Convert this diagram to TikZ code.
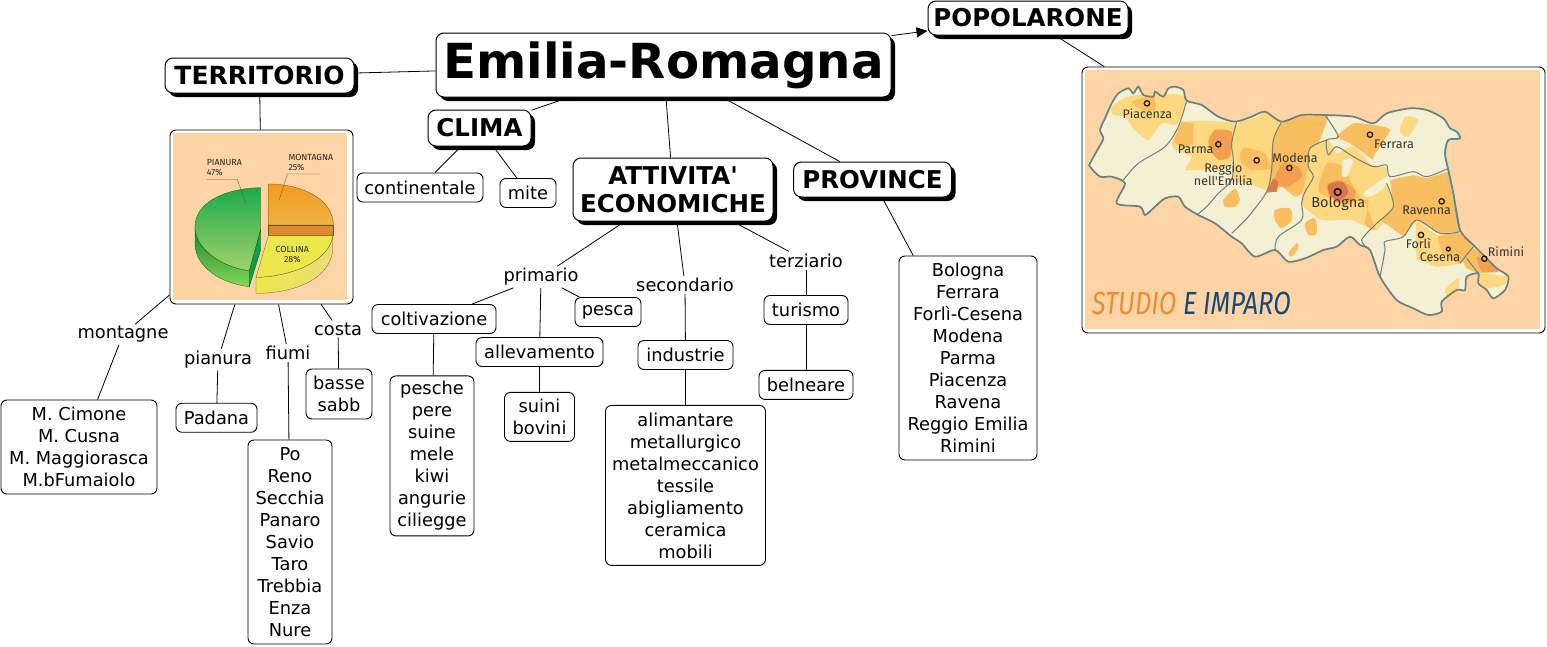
\documentclass[tikz,border=0pt]{standalone}
\usepackage{fontspec}
\setmainfont{DejaVu Sans}
\newfontfamily\mapfont{Fira Sans}
\usepackage{tikz}
\usetikzlibrary{arrows.meta,positioning,shadows}
\definecolor{peachbg}    {RGB}{253,212,166}
\definecolor{creamland}  {RGB}{243,240,212}
\definecolor{borderline} {RGB}{108,128,130}
\definecolor{coastline}  {RGB}{ 60,150,175}
\definecolor{zonelight}  {RGB}{252,217,128}
\definecolor{zonemid}    {RGB}{249,190, 96}
\definecolor{zonedark}   {RGB}{242,160, 80}
\definecolor{zonered}    {RGB}{216,118, 76}
\definecolor{piegreen}   {RGB}{ 28,170, 76}
\definecolor{piegreenlow}{RGB}{164,208,106}
\definecolor{piedark}    {RGB}{ 14,158, 74}
\definecolor{pieorange}  {RGB}{244,154, 30}
\definecolor{pieorlow}   {RGB}{236,180, 66}
\definecolor{piecut}     {RGB}{222,138, 44}
\definecolor{pieyellow}  {RGB}{236,232, 76}
\definecolor{piesand}    {RGB}{233,222,120}
\definecolor{brandorange}{RGB}{236,140, 50}
\definecolor{brandblue}  {RGB}{ 20, 75,120}
\newcommand{\regionpath}{plot[smooth cycle, tension=.45] coordinates {(45,310) (70,265) (85,235) (75,210) (90,175) (110,130) (130,100) (160,85) (175,100) (190,80) (205,105) (235,110) (240,95) (265,110) (280,85) (300,80) (325,90) (335,122) (380,135) (430,170) (480,185) (530,170) (570,155) (620,185) (680,165) (750,165) (835,170) (895,190) (935,160) (1005,145) (1055,150) (1105,175) (1125,205) (1145,215) (1155,235) (1120,240) (1110,280) (1120,330) (1135,400) (1155,510) (1195,555) (1235,595) (1265,625) (1300,650) (1290,690) (1255,715) (1235,690) (1210,670) (1210,640) (1175,650) (1170,690) (1145,690) (1100,725) (1100,755) (1060,765) (1015,745) (965,720) (915,650) (885,570) (855,555) (825,530) (785,560) (745,570) (690,595) (640,605) (600,570) (540,590) (500,550) (470,530) (420,490) (370,465) (330,440) (310,410) (270,415) (240,440) (210,465) (195,440) (125,430) (150,370) (110,350) (75,350) (45,320)}}

\begin{document}
\begin{tikzpicture}[
    x=1pt, y=1pt,
    element/.style={draw, rectangle, rounded corners=6pt, fill=white, line width=0.9pt, align=center, inner xsep=3pt, inner ysep=2pt, font=\fontsize{17.8}{22}\selectfont},
    leaf/.style={element, minimum height=29pt},
    headbox/.style={element, rounded corners=8pt, line width=1pt, inner ysep=1pt, font=\fontsize{24.5}{28}\selectfont\bfseries, drop shadow={shadow xshift=4pt, shadow yshift=-4pt, fill=black, opacity=1}},
    imagebox/.style={element, inner sep=0pt},
    linklabel/.style={inner sep=2pt, font=\fontsize{17.8}{22}\selectfont},
    link/.style={line width=0.8pt},
    arrow/.style={-{Triangle[length=11pt,width=10pt]}, line width=0.8pt},
    cityname/.style={inner sep=0pt, align=center, text=black!80, font=\fontsize{12.5}{13.5}\mapfont},
    pielabel/.style={inner sep=0pt, align=left, text=black!85, font=\fontsize{8.8}{10}\mapfont},
    citymark/.style={draw=black!80!brown, line width=1.3pt},
    province/.style={draw=borderline, line width=1pt},
    leader/.style={draw=black!45!brown, line width=0.3pt}
]
    \useasboundingbox (0,0) rectangle (1547,-646);

    % heads
    \node[headbox, minimum width=455pt, minimum height=64pt, font=\fontsize{48.3}{50}\selectfont\bfseries] (title) at (663.5,-65) {Emilia-Romagna};
    \node[headbox, minimum width=200pt, minimum height=34pt] (popolarone) at (1028,-18) {POPOLARONE};
    \node[headbox, minimum width=189pt, minimum height=35pt, font=\fontsize{25}{28}\selectfont\bfseries] (territorio) at (259.5,-75.5) {TERRITORIO};
    \node[headbox, minimum width=103pt, minimum height=36pt] (clima) at (479.5,-128) {CLIMA};
    \node[headbox, minimum width=200pt, minimum height=63pt] (attivita) at (673,-189.5) {ATTIVITA\textquotesingle\\ECONOMICHE};
    \node[headbox, minimum width=158pt, minimum height=35pt] (provincie) at (872.5,-179.5) {PROVINCE};

    % pictures
    \node[imagebox, minimum width=183pt, minimum height=174pt] (piebox) at (261.5,-217) {};
    \node[imagebox, minimum width=463pt, minimum height=266pt] (mapbox) at (1313.5,-200) {};

    % territorio
    \node[linklabel] (montagne) at (123,-334.5) {montagne};
    \node[linklabel] (pianura) at (218,-359.5) {pianura};
    \node[linklabel] (fiumi) at (288,-353) {fiumi};
    \node[linklabel] (costa) at (338,-329) {costa};
    \node[element, minimum width=156pt, minimum height=94pt] (monti) at (79,-447) {M. Cimone\\M. Cusna\\M. Maggiorasca\\M.bFumaiolo};
    \node[leaf, minimum width=81pt] (padana) [below=32.5pt of pianura, xshift=-1.5pt] {Padana};
    \node[element, minimum width=84pt, minimum height=204pt] (corsi) at (290,-542) {Po\\Reno\\Secchia\\Panaro\\Savio\\Taro\\Trebbia\\Enza\\Nure};
    \node[element, minimum width=66pt, minimum height=50pt] (coste) at (339,-394) {basse\\sabb};

    % clima
    \node[leaf, minimum width=126pt] (continentale) at (420,-187.5) {continentale};
    \node[leaf, minimum width=56pt] (mite) at (528,-193) {mite};

    % attivita
    \node[linklabel] (primario) at (541,-277) {primario};
    \node[linklabel] (secondario) at (685,-285) {secondario};
    \node[linklabel] (terziario) at (806,-260.5) {terziario};
    \node[leaf, minimum width=124pt] (coltivazione) at (434,-319) {coltivazione};
    \node[leaf, minimum width=66pt] (pesca) at (608,-312) {pesca};
    \node[leaf, minimum width=127pt] (allevamento) at (539.5,-352) {allevamento};
    \node[element, minimum width=84pt, minimum height=160pt] (frutta) [below=41.5pt of coltivazione, xshift=-2pt] {pesche\\pere\\suine\\mele\\kiwi\\angurie\\ciliegge};
    \node[element, minimum width=70pt, minimum height=49pt] (suini) [below=25pt of allevamento] {suini\\bovini};
    \node[leaf, minimum width=95pt] (industrie) at (685.5,-355) {industrie};
    \node[element, minimum width=160pt, minimum height=160pt] (settori) [below=35pt of industrie] {alimantare\\metallurgico\\metalmeccanico\\tessile\\abigliamento\\ceramica\\mobili};
    \node[leaf, minimum width=84pt] (turismo) at (806,-310) {turismo};
    \node[leaf, minimum width=94pt] (belneare) [below=45pt of turismo] {belneare};

    % province
    \node[element, minimum width=138pt, minimum height=204pt] (elenco) at (968,-358) {Bologna\\Ferrara\\Forlì-Cesena\\Modena\\Parma\\Piacenza\\Ravena\\Reggio Emilia\\Rimini};

    % connectors
    \draw[arrow] (title) -- (popolarone);
    \draw[link] (popolarone) -- (mapbox);
    \draw[link] (title) -- (territorio);
    \draw[link] (title) -- (clima);
    \draw[link] (title) -- (attivita);
    \draw[link] (title) -- (provincie);
    \draw[link] (territorio) -- (piebox);
    \draw[link] (piebox) -- (montagne);
    \draw[link] (piebox) -- (pianura);
    \draw[link] (piebox) -- (fiumi);
    \draw[link] (piebox) -- (costa);
    \draw[link] (montagne) -- (monti);
    \draw[link] (pianura) -- (padana);
    \draw[link] (fiumi) -- (corsi);
    \draw[link] (costa) -- (coste);
    \draw[link] (clima) -- (continentale);
    \draw[link] (clima) -- (mite);
    \draw[link] (attivita) -- (primario);
    \draw[link] (attivita) -- (secondario);
    \draw[link] (attivita) -- (terziario);
    \draw[link] (primario) -- (coltivazione);
    \draw[link] (primario) -- (allevamento);
    \draw[link] (primario) -- (pesca);
    \draw[link] (coltivazione) -- (frutta);
    \draw[link] (allevamento) -- (suini);
    \draw[link] (secondario) -- (industrie);
    \draw[link] (industrie) -- (settori);
    \draw[link] (terziario) -- (turismo);
    \draw[link] (turismo) -- (belneare);
    \draw[link] (provincie) -- (elenco);

    % pie chart
    \begin{scope}[shift={(160,-120)}, x=1/3*1pt, y=-1/3*1pt]
        \fill[peachbg] (38,38) rectangle (562,540);
        \path[top color=piegreen!75!black, bottom color=piegreenlow!80!green, draw=black!60!green, line width=0.3pt] (105,320) -- (105,370) .. controls (105,440) and (180,490) .. (268,500) -- (268,452) .. controls (180,440) and (105,385) .. (105,320);
        \path[top color=piegreen, bottom color=piegreenlow, draw=black!60!green, line width=0.3pt] (302,203) .. controls (190,205) and (105,250) .. (105,320) .. controls (105,385) and (180,440) .. (268,452) -- (302,330) -- cycle;
        \path[fill=piedark, draw=black!60!green, line width=0.3pt] (268,452) -- (302,330) -- (302,390) -- (268,500) -- cycle;
        \path[top color=pieorange, bottom color=pieorlow, draw=black!40!brown, line width=0.3pt] (325,192) .. controls (430,192) and (520,240) .. (520,315) -- (325,315) -- cycle;
        \path[fill=piecut, draw=black!40!brown, line width=0.3pt] (325,315) rectangle (520,345);
        \path[left color=pieyellow, right color=piesand, draw=black!40!olive, line width=0.3pt] (288,472) -- (288,520) .. controls (400,520) and (505,480) .. (518,395) -- (518,347) .. controls (510,420) and (400,470) .. (288,472) -- cycle;
        \path[fill=pieyellow, draw=black!40!olive, line width=0.3pt] (325,347) -- (518,347) .. controls (510,420) and (400,470) .. (288,472) -- cycle;
        \draw[leader] (140,178) -- (232,178) -- (258,252);
        \draw[leader] (480,162) -- (382,162) -- (358,238);
        \node[pielabel, anchor=north west] (pianuralabel) at (140,118) {PIANURA\\47\%};
        \node[pielabel, anchor=north west] (montagnalabel) at (385,102) {MONTAGNA\\25\%};
        \node[pielabel, align=center] (collinalabel) at (397,405) {COLLINA\\28\%};
    \end{scope}

    % map of the region
    \begin{scope}[shift={(1075,-60)}, x=1/3*1pt, y=-1/3*1pt]
        \fill[peachbg] (30,30) rectangle (1395,808);
        \path[fill=creamland] \regionpath;
        % coloured zones
        \fill[zonelight] plot[smooth cycle, tension=.4] coordinates {(110,140) (160,110) (250,100) (330,110) (320,170) (300,195) (260,190) (220,240) (175,205) (150,170) (115,165)};
        \fill[zonemid] plot[smooth cycle, tension=.4] coordinates {(170,125) (235,110) (240,150) (205,152)};
        \fill[zonelight] plot[smooth cycle, tension=.3] coordinates {(290,245) (330,185) (480,190) (470,250) (475,300) (440,330) (380,330) (330,330) (350,290) (300,270)};
        \fill[zonemid] (320,185) -- (355,190) -- (355,250) -- (325,265) -- (295,245) -- cycle;
        \fill[zonedark] plot[smooth cycle, tension=.3] coordinates {(400,240) (420,210) (470,215) (465,290) (430,300) (405,270)};
        \fill[zonelight] plot[smooth cycle, tension=.3] coordinates {(470,250) (490,190) (550,170) (570,155) (615,190) (595,250) (585,340) (575,390) (520,370) (470,360) (475,300)};
        \fill[zonemid] plot[smooth cycle, tension=.3] coordinates {(495,280) (510,262) (570,280) (585,325) (530,330) (500,310)};
        \fill[zonemid] plot[smooth cycle, tension=.3] coordinates {(445,420) (480,385) (495,420) (480,440) (450,440)};
        \fill[zonemid] plot[smooth cycle, tension=.2] coordinates {(605,210) (620,190) (680,165) (760,165) (730,250) (705,265) (700,320) (715,350) (690,395) (660,410) (620,380) (580,395) (595,240)};
        \fill[zonedark] plot[smooth cycle, tension=.4] coordinates {(600,350) (625,310) (670,320) (680,350) (640,380) (600,375)};
        \fill[zonered] (575,398) -- (595,355) -- (610,365) -- (605,395) -- cycle;
        \fill[zonemid] plot[smooth cycle, tension=.5] coordinates {(600,450) (645,445) (650,480) (620,505) (600,480)};
        \fill[zonemid] plot[smooth cycle, tension=.5] coordinates {(690,490) (720,475) (725,520) (700,525)};
        \fill[zonemid] plot[smooth cycle, tension=.5] coordinates {(640,580) (665,550) (670,565) (650,590)};
        \fill[zonelight] plot[smooth cycle, tension=.3] coordinates {(705,265) (760,240) (785,280) (835,260) (895,320) (935,320) (935,370) (955,440) (905,510) (830,480) (740,480) (680,430) (700,320)};
        \fill[zonemid] plot[smooth cycle, tension=.4] coordinates {(755,310) (805,320) (835,380) (875,440) (900,510) (870,490) (880,420) (820,430) (780,420) (730,390)};
        \fill[creamland] plot[smooth cycle, tension=.4] coordinates {(805,300) (835,300) (815,350) (800,345)};
        \fill[creamland] plot[smooth cycle, tension=.4] coordinates {(865,400) (935,350) (925,385) (885,410)};
        \fill[zonedark] plot[smooth cycle, tension=.4] coordinates {(755,375) (795,360) (840,390) (835,420) (795,430) (765,410)};
        \fill[zonered] plot[smooth cycle, tension=.5] coordinates {(760,375) (800,365) (820,395) (795,420) (765,405)};
        \fill[zonemid] plot[smooth cycle, tension=.3] coordinates {(835,190) (895,195) (945,210) (895,290) (895,300) (825,250) (785,230)};
        \fill[zonelight] plot[smooth cycle, tension=.4] coordinates {(990,170) (1030,180) (1000,230) (975,215)};
        \fill[zonemid] (945,360) -- (1015,345) -- (1055,355) -- (1120,335) -- (1135,400) -- (1155,515) -- (1095,520) -- (1025,480) -- (985,530) -- (945,500) -- (915,480) -- (955,440) -- cycle;
        \fill[zonelight] plot[smooth cycle, tension=.3] coordinates {(1025,600) (1025,485) (1085,525) (1155,520) (1195,560) (1155,610) (1085,620) (1035,600)};
        \fill[zonemid] plot[smooth cycle, tension=.3] coordinates {(1090,530) (1155,520) (1195,565) (1155,610) (1105,580)};
        \fill[zonemid] plot[smooth cycle, tension=.3] coordinates {(1195,565) (1235,600) (1270,630) (1215,640) (1175,625) (1165,600)};
        \fill[zonedark] plot[smooth cycle, tension=.3] coordinates {(1205,590) (1235,600) (1270,635) (1220,635)};
        \fill[zonelight] plot[smooth cycle, tension=.4] coordinates {(1215,642) (1295,650) (1285,675) (1235,685) (1215,670)};
        \fill[zonelight] plot[smooth cycle, tension=.4] coordinates {(1110,690) (1150,655) (1150,690) (1125,720)};
        % province borders and coast
        \draw[province] plot[smooth, tension=.5] coordinates {(335,122) (310,200) (270,260) (190,310) (145,360)};
        \draw[province] plot[smooth, tension=.5] coordinates {(485,185) (470,250) (475,300) (470,360) (430,400) (395,440) (365,465)};
        \draw[province] plot[smooth, tension=.5] coordinates {(620,185) (595,240) (590,330) (575,395) (520,470) (470,520)};
        \draw[province] plot[smooth, tension=.5] coordinates {(750,165) (790,230) (755,240) (760,285) (785,260) (835,290) (895,320) (935,315) (945,350) (1015,335) (1055,350) (1120,325)};
        \draw[province] plot[smooth, tension=.5] coordinates {(755,240) (705,265) (700,320) (715,350) (690,395) (680,430) (680,480) (610,530) (600,570)};
        \draw[province] plot[smooth, tension=.5] coordinates {(935,370) (955,440) (905,490) (860,540) (885,570)};
        \draw[province] plot[smooth, tension=.5] coordinates {(915,650) (930,570) (930,545) (985,530) (1025,480) (1095,520) (1155,515)};
        \draw[province] plot[smooth, tension=.5] coordinates {(1155,610) (1195,560)};
        \draw[province] plot[smooth, tension=.5] coordinates {(1175,595) (1210,640)};
        \draw[draw=borderline, line width=1.7pt] \regionpath;
        \draw[draw=coastline, line width=1pt] plot[smooth, tension=.5] coordinates {(1125,205) (1145,215) (1155,235) (1120,240) (1110,280) (1120,330) (1135,400) (1155,510)};
        % cities
        \draw[citymark] (216,130) circle (8);
        \draw[citymark] (430,253) circle (8);
        \draw[citymark] (545,301) circle (8);
        \draw[citymark] (643,324) circle (8);
        \draw[citymark, line width=1.7pt] (788,396) circle (10);
        \draw[citymark] (885,224) circle (8);
        \draw[citymark] (1100,424) circle (8);
        \draw[citymark] (1038,525) circle (8);
        \draw[citymark] (1120,567) circle (6);
        \draw[citymark] (1228,596) circle (8);
        \node[cityname] (piacenza) at (217,160) {Piacenza};
        \node[cityname] (parma) at (362,268) {Parma};
        \node[cityname] (reggio) at (445,342) {Reggio\\nell'Emilia};
        \node[cityname] (modena) at (660,295) {Modena};
        \node[cityname, font=\fontsize{14.5}{16}\mapfont] (bologna) at (790,431) {Bologna};
        \node[cityname] (ferrara) at (957,252) {Ferrara};
        \node[cityname] (ravenna) at (1055,450) {Ravenna};
        \node[cityname] (forli) at (1030,552) {Forlì};
        \node[cityname] (cesena) at (1095,592) {Cesena};
        \node[cityname] (rimini) at (1293,574) {Rimini};
        \node[inner sep=0pt, anchor=west, font=\fontsize{32}{34}\mapfont\itshape] (marchio) at (50,730) {\scalebox{0.8}[1]{\textcolor{brandorange}{STUDIO} \textcolor{brandblue}{E IMPARO}}};
    \end{scope}
\end{tikzpicture}
\end{document}
